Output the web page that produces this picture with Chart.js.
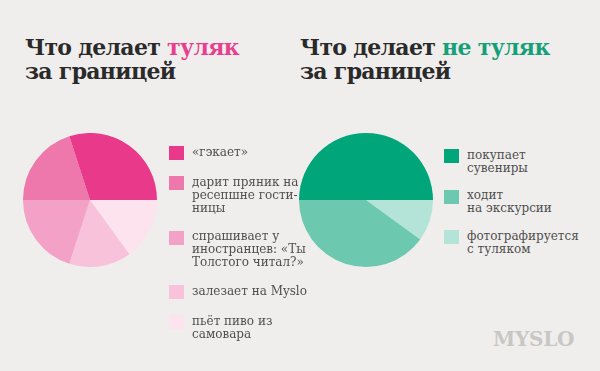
<!DOCTYPE html>
<html>
<head>
<meta charset="utf-8">
<script src="https://cdn.jsdelivr.net/npm/chart.js@4/dist/chart.umd.min.js"></script>
<style>
  html, body { margin: 0; padding: 0; }
  body { width: 600px; height: 371px; background: #F0EEEC; position: relative; overflow: hidden; font-family: "DejaVu Serif", serif; }
  .title { position: absolute; font-weight: bold; font-size: 22px; line-height: 24px; color: #2A2A2A; letter-spacing: -0.7px; }
  .pink { color: #E8408F; }
  .green { color: #16A079; }
  canvas { position: absolute; }
  .legend { position: absolute; display: flex; flex-direction: column; }
  .item { display: flex; align-items: flex-start; }
  .sw { width: 15px; height: 14px; flex: none; margin-right: 8px; }
  .lbl { font-size: 12px; line-height: 13px; color: #4F4F4F; white-space: pre-line; margin-top: -0.5px; }
  .logo { position: absolute; left: 493px; top: 327px; font-weight: bold; font-size: 20px; color: #C9C7C5; letter-spacing: -0.2px; }
</style>
</head>
<body>
<div class="title" style="left:25px; top:35px;">Что делает <span class="pink">туляк</span><br>за границей</div>
<div class="title" style="left:300px; top:35px;">Что делает <span class="green">не туляк</span><br>за границей</div>

<canvas id="c1" width="134" height="134" style="left:23px; top:133px;"></canvas>
<canvas id="c2" width="134" height="134" style="left:299px; top:133px;"></canvas>

<div class="legend" id="l1" style="left:169px; top:146px; row-gap:16px;"></div>
<div class="legend" id="l2" style="left:444px; top:149px; row-gap:15px;"></div>

<div class="logo">MYSLO</div>

<script>
// Left chart: "туляк"
const leftLabels = [
  "«гэкает»",
  "дарит пряник на\nресепшне гости-\nницы",
  "спрашивает у\nиностранцев: «Ты\nТолстого читал?»",
  "залезает на Myslo",
  "пьёт пиво из\nсамовара"
];
const leftValues = [30, 20, 20, 15, 15];
const leftColors = ["#E8398A", "#EE77AC", "#F3A1C7", "#F7C2DA", "#FCE3EE"];

// Right chart: "не туляк"
const rightLabels = [
  "покупает\nсувениры",
  "ходит\nна экскурсии",
  "фотографируется\nс туляком"
];
const rightValues = [50, 40, 10];
const rightColors = ["#00A67A", "#6CC8AE", "#B3E4D7"];

function makePie(id, labels, values, colors) {
  // slices run counter-clockwise from 3 o'clock in the reference,
  // so feed them reversed with a 90° start (Chart.js draws clockwise)
  const l = labels.slice().reverse();
  const v = values.slice().reverse();
  const c = colors.slice().reverse();
  new Chart(document.getElementById(id), {
    type: 'pie',
    data: { labels: l, datasets: [{ data: v, backgroundColor: c, borderWidth: 0 }] },
    options: {
      responsive: false,
      animation: false,
      rotation: 90,
      layout: { padding: 0 },
      plugins: { legend: { display: false }, tooltip: { enabled: false } }
    }
  });
}

function makeLegend(id, labels, colors) {
  const el = document.getElementById(id);
  labels.forEach((t, i) => {
    const it = document.createElement('div');
    it.className = 'item';
    const sw = document.createElement('div');
    sw.className = 'sw';
    sw.style.background = colors[i];
    const lb = document.createElement('div');
    lb.className = 'lbl';
    lb.textContent = t;
    it.appendChild(sw);
    it.appendChild(lb);
    el.appendChild(it);
  });
}

makePie('c1', leftLabels, leftValues, leftColors);
makePie('c2', rightLabels, rightValues, rightColors);
makeLegend('l1', leftLabels, leftColors);
makeLegend('l2', rightLabels, rightColors);
</script>
</body>
</html>
